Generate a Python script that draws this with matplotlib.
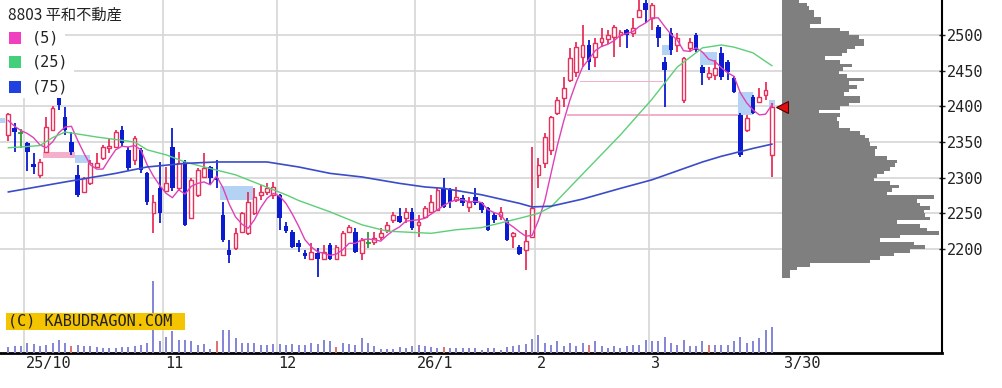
import numpy as np
import matplotlib
matplotlib.use("Agg")
import matplotlib.pyplot as plt
from matplotlib.patches import Rectangle
from matplotlib.transforms import blended_transform_factory, offset_copy

title = "8803 平和不動産"
ma_labels = ["(5)", "(25)", "(75)"]
copyright_text = "(C) KABUDRAGON.COM"

month_labels = ["25/10", "11", "12", "26/1", "2", "3"]
month_first_idx = [3, 25, 43, 65, 84, 102]
last_label = "3/30"

opens = [2360, 2370, 2362, 2349, 2319, 2304, 2336, 2367, 2413, 2385,
         2350, 2304, 2280, 2293, 2315, 2328, 2341, 2343, 2367, 2339,
         2325, 2339, 2307, 2250, 2286, 2282, 2343, 2285, 2322, 2243,
         2276, 2301, 2315, 2300, 2248, 2199, 2201, 2224, 2222, 2250,
         2276, 2280, 2276, 2276, 2232, 2224, 2208, 2194, 2186, 2194,
         2186, 2206, 2186, 2192, 2224, 2224, 2194, 2208, 2210, 2217,
         2227, 2241, 2246, 2243, 2252, 2234, 2245, 2252, 2255, 2286,
         2283, 2269, 2272, 2259, 2273, 2265, 2258, 2248, 2246, 2241,
         2218, 2203, 2199, 2217, 2304, 2321, 2339, 2390, 2412, 2437,
         2448, 2469, 2486, 2469, 2490, 2494, 2497, 2500, 2507, 2503,
         2525, 2545, 2524, 2511, 2462, 2503, 2486, 2409, 2482, 2500,
         2455, 2441, 2444, 2475, 2462, 2440, 2388, 2367, 2413, 2406,
         2416, 2332]
highs = [2391, 2377, 2368, 2350, 2335, 2326, 2385, 2400, 2416, 2399,
         2364, 2318, 2301, 2325, 2334, 2346, 2355, 2367, 2372, 2343,
         2358, 2342, 2308, 2276, 2322, 2315, 2370, 2336, 2325, 2300,
         2313, 2335, 2317, 2325, 2266, 2213, 2229, 2252, 2280, 2286,
         2290, 2293, 2294, 2277, 2238, 2227, 2213, 2199, 2208, 2201,
         2206, 2208, 2206, 2225, 2233, 2229, 2215, 2224, 2224, 2229,
         2238, 2252, 2258, 2258, 2258, 2248, 2260, 2276, 2286, 2300,
         2286, 2287, 2276, 2273, 2286, 2266, 2259, 2250, 2259, 2243,
         2224, 2206, 2227, 2343, 2328, 2363, 2387, 2413, 2441, 2482,
         2490, 2514, 2493, 2496, 2510, 2507, 2514, 2507, 2508, 2524,
         2549, 2549, 2545, 2514, 2469, 2510, 2503, 2469, 2496, 2503,
         2458, 2455, 2465, 2483, 2465, 2443, 2391, 2388, 2416, 2426,
         2434, 2404]
lows = [2351, 2336, 2341, 2309, 2305, 2300, 2336, 2365, 2395, 2360,
        2332, 2273, 2279, 2290, 2313, 2325, 2335, 2341, 2343, 2311,
        2318, 2307, 2262, 2222, 2236, 2280, 2282, 2282, 2232, 2242,
        2273, 2301, 2290, 2285, 2210, 2180, 2199, 2222, 2220, 2248,
        2269, 2276, 2270, 2227, 2222, 2201, 2196, 2186, 2185, 2161,
        2185, 2185, 2185, 2190, 2222, 2194, 2185, 2201, 2206, 2213,
        2222, 2236, 2236, 2236, 2227, 2217, 2243, 2250, 2253, 2258,
        2258, 2266, 2260, 2252, 2262, 2250, 2225, 2236, 2241, 2211,
        2201, 2192, 2171, 2215, 2286, 2314, 2332, 2388, 2399, 2434,
        2441, 2455, 2451, 2455, 2483, 2487, 2469, 2483, 2482, 2497,
        2524, 2517, 2507, 2483, 2399, 2472, 2476, 2405, 2476, 2476,
        2430, 2437, 2437, 2437, 2437, 2418, 2329, 2364, 2389, 2405,
        2409, 2301]
closes = [2389, 2364, 2362, 2336, 2315, 2322, 2371, 2398, 2402, 2367,
          2336, 2276, 2300, 2321, 2320, 2343, 2345, 2364, 2349, 2314,
          2355, 2311, 2266, 2266, 2250, 2292, 2285, 2320, 2234, 2297,
          2311, 2314, 2300, 2297, 2213, 2192, 2222, 2250, 2266, 2273,
          2280, 2286, 2287, 2243, 2225, 2203, 2203, 2190, 2196, 2186,
          2196, 2186, 2203, 2222, 2231, 2196, 2213, 2208, 2215, 2222,
          2234, 2248, 2238, 2252, 2229, 2238, 2258, 2266, 2283, 2259,
          2266, 2273, 2265, 2266, 2265, 2255, 2227, 2241, 2252, 2213,
          2222, 2193, 2211, 2258, 2318, 2357, 2385, 2409, 2426, 2468,
          2483, 2486, 2462, 2489, 2496, 2500, 2511, 2504, 2500, 2510,
          2535, 2535, 2542, 2496, 2451, 2479, 2496, 2468, 2490, 2479,
          2447, 2447, 2454, 2441, 2448, 2420, 2332, 2384, 2391, 2413,
          2423, 2399]
volumes = [170, 200, 210, 290, 250, 210, 240, 290, 370, 300,
           190, 240, 190, 200, 170, 150, 150, 150, 170, 170,
           200, 220, 290, 2160, 340, 470, 650, 390, 370, 350,
           240, 250, 110, 340, 670, 670, 440, 300, 300, 300,
           240, 240, 250, 250, 240, 250, 240, 220, 300, 270,
           390, 340, 170, 290, 250, 240, 440, 300, 190, 120,
           100, 100, 170, 150, 190, 240, 200, 170, 150, 170,
           150, 140, 150, 150, 150, 90, 150, 150, 90, 170,
           190, 240, 270, 420, 520, 290, 240, 340, 190, 290,
           200, 290, 240, 340, 190, 150, 190, 150, 200, 220,
           240, 370, 340, 340, 470, 290, 240, 370, 200, 200,
           340, 240, 240, 240, 240, 340, 470, 300, 340, 440,
           670, 770]
vol_red_idx = [10, 33, 52, 69, 92, 111]

ma5 = [2380, 2372, 2366, 2362, 2356, 2346, 2342, 2350, 2363, 2371,
       2372, 2352, 2334, 2318, 2312, 2312, 2326, 2339, 2344, 2343,
       2345, 2339, 2318, 2302, 2289, 2278, 2272, 2283, 2277, 2288,
       2292, 2294, 2290, 2302, 2286, 2263, 2245, 2235, 2229, 2241,
       2258, 2271, 2278, 2274, 2264, 2249, 2232, 2213, 2203, 2196,
       2194, 2191, 2193, 2199, 2208, 2208, 2213, 2214, 2213, 2211,
       2219, 2226, 2231, 2239, 2240, 2241, 2243, 2249, 2255, 2261,
       2266, 2269, 2269, 2266, 2267, 2265, 2255, 2251, 2248, 2237,
       2231, 2224, 2218, 2219, 2240, 2267, 2306, 2345, 2379, 2409,
       2434, 2455, 2466, 2478, 2484, 2487, 2492, 2500, 2502, 2505,
       2512, 2517, 2524, 2524, 2512, 2501, 2493, 2478, 2477, 2482,
       2476, 2466, 2463, 2454, 2447, 2442, 2419, 2405, 2395, 2388,
       2389, 2402]
ma25_idx = [0, 2, 5, 7, 9, 14, 20, 22, 25, 28, 31, 36, 40, 44, 46, 51,
            56, 60, 67, 71, 75, 81, 84, 86, 91, 97, 102, 106, 110, 113,
            115, 118, 121]
ma25_val = [2342, 2343, 2345, 2356, 2364, 2357, 2350, 2339, 2332, 2322,
            2315, 2304, 2290, 2276, 2268, 2252, 2234, 2225, 2222, 2227,
            2230, 2243, 2250, 2259, 2305, 2360, 2410, 2455, 2482, 2486,
            2483, 2475, 2457]
ma75_idx = [0, 9, 17, 22, 28, 33, 41, 46, 51, 56, 62, 66, 69, 75, 81,
            83, 86, 91, 97, 102, 110, 113, 118, 121]
ma75_val = [2280, 2294, 2306, 2315, 2320, 2322, 2322, 2315, 2306, 2301,
            2292, 2287, 2285, 2276, 2264, 2259, 2260, 2270, 2285, 2297,
            2322, 2330, 2341, 2347]

# price windows (gaps): start/end index, low/high price, up or down
gap_start = [-1.4, 5.5, 10.5, 33.5, 103.6, 109.6, 115.6, 120.6, 88.6, 90.6]
gap_end = [-0.5, 10.5, 13.0, 38.8, 105.1, 112.3, 118.0, 121.5, 115.6, 103.7]
gap_low = [2376, 2327, 2320, 2268, 2472, 2458, 2388, 2399, 2387, 2434]
gap_high = [2383, 2336, 2332, 2288, 2486, 2476, 2420, 2409, 2389, 2436]
gap_up = [False, True, False, False, False, False, False, False, True, True]

# volume by price, top bin first
profile_top = 2550
profile_step = 5
profile_vol = [16.7, 25, 27, 32, 32, 39, 39, 28, 58, 67,
               77, 82, 82, 73, 65, 60, 43, 58, 70, 61,
               57, 65, 82, 67, 75, 67, 62, 78, 78, 67,
               58, 37, 58, 55, 57, 57, 68, 78, 83, 87,
               88, 95, 93, 93, 105, 115, 113, 108, 102, 95,
               92, 108, 117, 110, 105, 152, 135, 138, 148, 142,
               143, 148, 115, 138, 145, 157, 118, 98, 132, 143,
               128, 112, 98, 88, 28, 15, 8, 8]

RED = "#e8305c"
BLUE = "#0c1ad0"
GREEN = "#2e9a3a"
GRID = "#d6d6d6"
MONO = "DejaVu Sans Mono"

W, H = 1002, 388
fig = plt.figure(figsize=(W / 100, H / 100), dpi=100)
fig.patch.set_facecolor("white")


def fx(px):
    return px / W


def fy(py):
    return 1 - py / H


plot_right, plot_bottom = 942, 352.5
pos = [0, fy(plot_bottom), fx(plot_right), plot_bottom / H]
ax = fig.add_axes(pos)
ax.set_xlim(-1.323, 147.96)
ax.set_ylim(2054.9, 2549.07)

o = np.array(opens, float)
h = np.array(highs, float)
l = np.array(lows, float)
c = np.array(closes, float)
x = np.arange(len(c))

# grid
price_ticks = [2200, 2250, 2300, 2350, 2400, 2450, 2500]
for p in price_ticks:
    ax.axhline(p, color=GRID, lw=1.2, zorder=0)
for i in month_first_idx:
    ax.axvline(i - 0.5, color=GRID, lw=1.2, zorder=0)

# gap windows
for s, e, lo, hi, up in zip(gap_start, gap_end, gap_low, gap_high, gap_up):
    col = "#f4b0ca" if up else "#b4d2f4"
    ax.add_patch(Rectangle((s, lo), e - s, hi - lo, facecolor=col,
                           edgecolor="none", zorder=1))

# candles
up = c > o
dn = c < o
dj = c == o
wick_col = np.where(up, RED, np.where(dn, BLUE, GREEN))
ax.vlines(x, l, h, colors=wick_col, lw=1.3, zorder=3)
ax.bar(x[dn], (o - c)[dn], bottom=c[dn], width=0.72, color=BLUE,
       linewidth=0, zorder=4)
ax.bar(x[up], (c - o)[up], bottom=o[up], width=0.6, facecolor="white",
       edgecolor=RED, linewidth=1.0, zorder=4)
ax.hlines(c[dj], x[dj] - 0.4, x[dj] + 0.4, colors=GREEN, lw=1.3, zorder=4)

# moving averages
ax.plot(x, ma5, color="#e040b8", lw=1.0, zorder=5)
ax.plot(ma25_idx, ma25_val, color="#5ccf78", lw=1.0, zorder=5)
ax.plot(ma75_idx, ma75_val, color="#3a4cc8", lw=1.2, zorder=5)

# axes styling
for side in ["top", "left"]:
    ax.spines[side].set_visible(False)
ax.spines["right"].set_linewidth(1.5)
ax.spines["bottom"].set_linewidth(2.0)
ax.yaxis.tick_right()
ax.set_yticks(price_ticks)
ax.set_yticklabels([str(p) for p in price_ticks])
ax.tick_params(axis="y", direction="inout", length=5, width=1, pad=1,
               labelsize=11, colors="#222222")
for lbl in ax.get_yticklabels():
    lbl.set_fontfamily(MONO)
ax.set_xticks([])

trans = offset_copy(blended_transform_factory(ax.transData, ax.transAxes),
                    fig=fig, x=2, y=0, units="dots")
for i, lab in zip(month_first_idx, month_labels):
    ax.text(i - 0.5, -0.03, lab, transform=trans, ha="left", va="center",
            fontsize=11, family=MONO, color="#222222", clip_on=False)
ax.text(len(c) + 0.6, -0.03, last_label, transform=trans, ha="left",
        va="center", fontsize=11, family=MONO, color="#222222", clip_on=False)

# volume panel
axv = fig.add_axes(pos)
axv.patch.set_visible(False)
axv.set_xlim(ax.get_xlim())
axv.set_ylim(0, 10575)
vcol = ["#e07070" if i in vol_red_idx else "#8484d6" for i in range(len(c))]
axv.vlines(x, 0, volumes, colors=vcol, lw=1.4)
axv.axis("off")

# volume by price profile
prof_left = 782
axp = fig.add_axes([fx(prof_left), pos[1], fx(plot_right - prof_left), pos[3]])
axp.patch.set_visible(False)
axp.set_ylim(ax.get_ylim())
axp.set_xlim(0, plot_right - prof_left)
centers = profile_top - profile_step / 2 - profile_step * np.arange(len(profile_vol))
axp.barh(centers, profile_vol, height=profile_step, color="#7f7f7f",
         linewidth=0)
axp.plot([0], [closes[-1]], marker="<", ms=8, color="#e01010",
         mec="#500000", mew=0.8, clip_on=False)
axp.axis("off")

# legend block
fig.add_artist(Rectangle((0, fy(25)), fx(142), 25 / H, transform=fig.transFigure,
                         facecolor="white", edgecolor="none", zorder=5))
fig.add_artist(Rectangle((0, fy(50)), fx(65), 25 / H, transform=fig.transFigure,
                         facecolor="white", edgecolor="none", zorder=5))
fig.add_artist(Rectangle((0, fy(98)), fx(74), 48 / H, transform=fig.transFigure,
                         facecolor="white", edgecolor="none", zorder=5))
fig.text(fx(8), fy(15), title, fontsize=11, va="center", ha="left",
         family=["Noto Sans CJK JP", "DejaVu Sans"], color="#222222", zorder=6)
for lab, col, yc in zip(ma_labels, ["#f040c0", "#44d07a", "#2040e0"], [38, 62, 87]):
    fig.add_artist(Rectangle((fx(9), fy(yc + 6)), fx(12), 12 / H,
                             transform=fig.transFigure, facecolor=col,
                             edgecolor="none", zorder=6))
    fig.text(fx(32), fy(yc), lab, fontsize=11, va="center", ha="left",
             family=MONO, color="#222222", zorder=6)

# copyright label
fig.add_artist(Rectangle((fx(6), fy(330)), fx(179), 17 / H,
                         transform=fig.transFigure, facecolor="#f4c400",
                         edgecolor="none", zorder=5))
fig.text(fx(8), fy(321.5), copyright_text, fontsize=11, va="center", ha="left",
         family=MONO, color="#222222", zorder=6)

fig.savefig("out.png", dpi=100)
